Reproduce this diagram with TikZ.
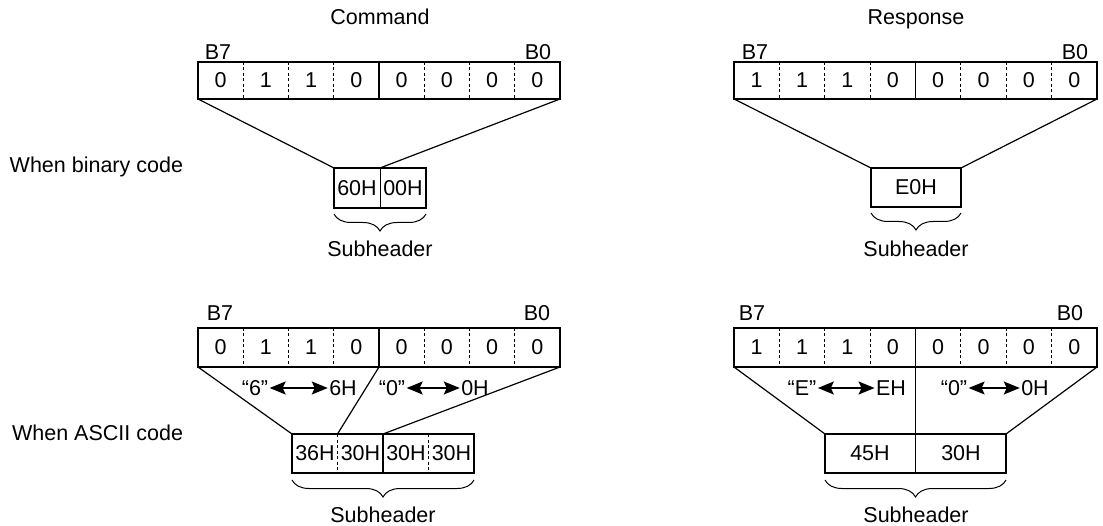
\documentclass[tikz,border=0pt]{standalone}
\usepackage{fontspec}
\setmainfont{Liberation Sans}
\usetikzlibrary{arrows.meta,decorations.pathreplacing,calc}
\begin{document}
\begin{tikzpicture}[x=1pt,y=-1pt,
  every node/.style={font=\fontsize{21.5}{25}\selectfont, inner sep=0pt, outer sep=0pt},
  bitbox/.style={draw, line width=2pt, minimum width=362pt},
  subbox/.style={draw, line width=1.1pt},
  conn/.style={line width=1.2pt},
  divd/.style={line width=0.8pt, dash pattern=on 3pt off 2.5pt},
  divs/.style={line width=1.2pt},
  brc/.style={decorate, decoration={brace, amplitude=17pt}, line width=1pt},
  dbl/.style={{Stealth[length=16pt,width=13pt,inset=3pt]}-{Stealth[length=16pt,width=13pt,inset=3pt]}, line width=1.4pt},
  lbl/.style={inner sep=1.5pt}
]
\useasboundingbox (0,0) rectangle (1103,526);

% titles and side labels
\node[anchor=base] (tc) at (380,25) {Command};
\node[anchor=base] (tr) at (916,25) {Response};
\node[anchor=east] (wb) at (183,167) {When binary code};
\node[anchor=east] (wa) at (183,433) {When ASCII code};

% ---------- top command ----------
\node[bitbox, minimum height=37pt] (cA) at (379,80.5) {};
\node (cAb7) at (218,52) {B7};
\node (cAb0) at (538,52) {B0};
\foreach \v [count=\i] in {0,1,1,0,0,0,0,0}
  \node at ({198+45.25*(\i-0.5)},80.5) {\v};
\foreach \i in {1,2,3,5,6,7}
  \draw[divd] ({198+45.25*\i},62) -- ({198+45.25*\i},99);
\draw[divs] (379,62) -- (379,99);

\node[subbox, minimum width=92pt, minimum height=40pt] (s1) at (380,188) {};
\node (s1a) at (357,188) {60H};
\node (s1b) at (403,188) {00H};
\draw[line width=0.8pt] (s1.north) -- (s1.south);
\draw[conn] (cA.south west) -- (s1.north west);
\draw[conn] (cA.south east) -- (s1.north);
\draw[brc] ([yshift=-6pt]s1.south east) -- ([yshift=-6pt]s1.south west);
\node (sh1) at (380,249) {Subheader};

% ---------- top response ----------
\node[bitbox, minimum height=37pt, minimum width=363pt] (rA) at (915.5,80.5) {};
\node (rAb7) at (755,52) {B7};
\node (rAb0) at (1075,52) {B0};
\foreach \v [count=\i] in {1,1,1,0,0,0,0,0}
  \node at ({734+45.375*(\i-0.5)},80.5) {\v};
\foreach \i in {1,2,3,5,6,7}
  \draw[divd] ({734+45.375*\i},62) -- ({734+45.375*\i},99);
\draw[divs] (915.5,62) -- (915.5,99);

\node[subbox, minimum width=90pt, minimum height=39pt] (s2) at (916,187.5) {E0H};
\draw[conn] (rA.south west) -- (s2.north west);
\draw[conn] (rA.south east) -- (s2.north east);
\draw[brc] ([yshift=-6pt]s2.south east) -- ([yshift=-6pt]s2.south west);
\node (sh2) at (916,249) {Subheader};

% ---------- bottom command ----------
\node[bitbox, minimum height=39pt] (cB) at (379,347.5) {};
\node (cBb7) at (220,313) {B7};
\node (cBb0) at (537,313) {B0};
\foreach \v [count=\i] in {0,1,1,0,0,0,0,0}
  \node at ({198+45.25*(\i-0.5)},347.5) {\v};
\foreach \i in {1,2,3,5,6,7}
  \draw[divd] ({198+45.25*\i},328) -- ({198+45.25*\i},367);
\draw[divs] (379,328) -- (379,367);

\node[subbox, minimum width=182pt, minimum height=39pt] (s3) at (383,453.5) {};
\node (s3a) at (315,453.5) {36H};
\node (s3b) at (360.5,453.5) {30H};
\node (s3c) at (406,453.5) {30H};
\node (s3d) at (451.5,453.5) {30H};
\draw[divd] ($(s3.north west)!0.25!(s3.north east)$) -- ($(s3.south west)!0.25!(s3.south east)$);
\draw[divs] (s3.north) -- (s3.south);
\draw[divd] ($(s3.north west)!0.75!(s3.north east)$) -- ($(s3.south west)!0.75!(s3.south east)$);
\coordinate (s3q) at ($(s3.north west)!0.25!(s3.north east)$);
\draw[conn] (cB.south west) -- (s3.north west);
\draw[conn] (cB.south) -- (s3q);
\draw[conn] (cB.south east) -- (s3.north);
\node[lbl] (q6) at (255,388) {“6”};
\node[lbl] (h6) at (343,388) {6H};
\node[lbl] (q0) at (392,388) {“0”};
\node[lbl] (h0) at (475,388) {0H};
\draw[dbl] (q6) -- (h6);
\draw[dbl] (q0) -- (h0);
\draw[brc] ([yshift=-7pt]s3.south east) -- ([yshift=-7pt]s3.south west);
\node (sh3) at (383,515) {Subheader};

% ---------- bottom response ----------
\node[bitbox, minimum height=39pt, minimum width=363pt] (rB) at (915.5,347.5) {};
\node (rBb7) at (752,313) {B7};
\node (rBb0) at (1070,313) {B0};
\foreach \v [count=\i] in {1,1,1,0,0,0,0,0}
  \node at ({734+45.375*(\i-0.5)},347.5) {\v};
\foreach \i in {1,2,3,5,6,7}
  \draw[divd] ({734+45.375*\i},328) -- ({734+45.375*\i},367);
\draw[divs] (915.5,328) -- (915.5,367);

\node[subbox, minimum width=181pt, minimum height=39pt] (s4) at (915.5,453.5) {};
\node (s4a) at (870,453.5) {45H};
\node (s4b) at (961,453.5) {30H};
\draw[conn] (rB.south west) -- (s4.north west);
\draw[conn] (rB.south) -- (s4.north);
\draw[conn] (s4.north) -- (s4.south);
\draw[conn] (rB.south east) -- (s4.north east);
\node[lbl] (qE) at (802,388) {“E”};
\node[lbl] (hE) at (891,388) {EH};
\node[lbl] (qR0) at (954,388) {“0”};
\node[lbl] (hR0) at (1035,388) {0H};
\draw[dbl] (qE) -- (hE);
\draw[dbl] (qR0) -- (hR0);
\draw[brc] ([yshift=-7pt]s4.south east) -- ([yshift=-7pt]s4.south west);
\node (sh4) at (916,515) {Subheader};
\end{tikzpicture}
\end{document}
